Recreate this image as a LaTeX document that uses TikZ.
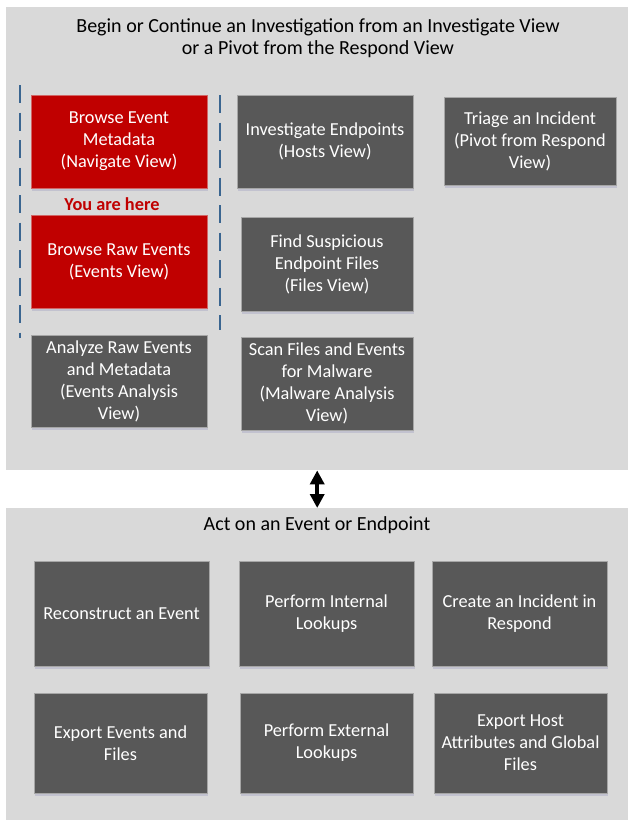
\documentclass[tikz,border=0pt]{standalone}
\usepackage{fontspec}
\setmainfont{Carlito}
\usetikzlibrary{arrows.meta,shadows}
\definecolor{panelgray}{HTML}{D9D9D9}
\definecolor{boxgray}{HTML}{585858}
\definecolor{boxred}{HTML}{C00000}
\definecolor{herered}{HTML}{C00000}
\definecolor{dashblue}{HTML}{3A6590}
\tikzset{
  panel/.style={fill=panelgray, draw=none, inner sep=0pt, anchor=north west},
  boxbase/.style={draw=black!35, line width=0.6pt, text=white, align=center, inner sep=2pt,
    font=\fontsize{18.3}{22}\selectfont,
    drop shadow={opacity=0.10, shadow xshift=1pt, shadow yshift=-2.5pt, fill=blue!50!black}},
  graybox/.style={boxbase, fill=boxgray},
  redbox/.style={boxbase, fill=boxred, draw=red!70!black!60},
  sep/.style={dashblue, line width=2.6pt, dash pattern=on 18pt off 9.5pt},
  titletext/.style={align=center, font=\fontsize{20}{22}\selectfont, text=black},
}
\begin{document}
\begin{tikzpicture}[x=1pt,y=-1pt]
\useasboundingbox (0,0) rectangle (628,820);
\fill[white] (0,0) rectangle (628,820);
% panels
\node[panel, minimum width=622pt, minimum height=463pt] (top) at (6,7) {};
\node[panel, minimum width=622pt, minimum height=312pt] (bot) at (6,508) {};
% titles
\node[titletext] (t1) at (318,38) {Begin or Continue an Investigation from an Investigate View\\or a Pivot from the Respond View};
\node[titletext] (t2) at (317,525) {Act on an Event or Endpoint};
% dashed separators
\coordinate (l1) at (20,85); \coordinate (l2) at (20,338);
\coordinate (r1) at (220,95); \coordinate (r2) at (220,330);
\draw[sep] (l1) -- (l2);
\draw[sep] (r1) -- (r2);
% top boxes
\node[redbox, minimum width=176pt, minimum height=93pt] (meta) at (119,141.5) {Browse Event\\Metadata\\(Navigate View)};
\node[text=herered, font=\fontsize{18.3}{20}\bfseries\selectfont] (here) at (112,204) {You are here};
\node[redbox, minimum width=176pt, minimum height=93pt] (raw) at (119,261.5) {Browse Raw Events\\(Events View)};
\node[graybox, minimum width=176pt, minimum height=92pt] (analyze) at (119,381) {Analyze Raw Events\\and Metadata\\(Events Analysis\\View)};
\node[graybox, minimum width=176pt, minimum height=93pt] (hosts) at (325,141.5) {Investigate Endpoints\\(Hosts View)};
\node[graybox, minimum width=172pt, minimum height=88pt] (triage) at (530,141) {Triage an Incident\\(Pivot from Respond\\View)};
\node[graybox, minimum width=172pt, minimum height=94pt] (files) at (327,264) {Find Suspicious\\Endpoint Files\\(Files View)};
\node[graybox, minimum width=172pt, minimum height=93pt] (scan) at (327,383.5) {Scan Files and Events\\for Malware\\(Malware Analysis\\View)};
\coordinate (m1) at (333,203); \coordinate (m2) at (345,203);
\draw[black!15, line width=1pt] (m1) -- (m2);
% arrow
\draw[{Triangle[width=14pt,length=14pt]}-{Triangle[width=14pt,length=14pt]}, line width=3.5pt] (top.south) -- (bot.north);
% bottom boxes
\node[graybox, minimum width=175pt, minimum height=105pt] (recon) at (121.5,613.5) {Reconstruct an Event};
\node[graybox, minimum width=175pt, minimum height=105pt] (internal) at (326.5,613.5) {Perform Internal\\Lookups};
\node[graybox, minimum width=175pt, minimum height=105pt] (create) at (519.5,613.5) {Create an Incident in\\Respond};
\node[graybox, minimum width=173pt, minimum height=100pt] (expev) at (120.5,743) {Export Events and\\Files};
\node[graybox, minimum width=173pt, minimum height=100pt] (external) at (326.5,743) {Perform External\\Lookups};
\node[graybox, minimum width=173pt, minimum height=100pt] (exphost) at (520.5,743) {Export Host\\Attributes and Global\\Files};
\end{tikzpicture}
\end{document}
